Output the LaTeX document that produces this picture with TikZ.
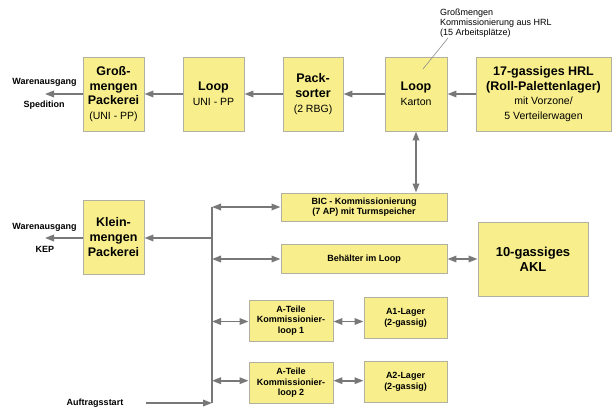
\documentclass[tikz,border=0pt]{standalone}
\usepackage{fontspec}
\setmainfont{Liberation Sans}
\usetikzlibrary{arrows.meta}

\definecolor{boxfill}{RGB}{248,239,140}
\definecolor{boxline}{RGB}{178,176,160}
\definecolor{flow}{RGB}{120,120,120}
\definecolor{pinline}{RGB}{140,140,140}

\tikzset{
  block/.style={draw=boxline, line width=0.9pt, fill=boxfill, align=center,
                inner sep=0pt, text=black},
  bigtxt/.style={font=\fontsize{12.5}{14.7}\selectfont\bfseries},
  smalltxt/.style={font=\fontsize{9}{10.6}\selectfont\bfseries},
  label/.style={font=\fontsize{9}{10.6}\selectfont\bfseries, inner sep=0pt},
  flowline/.style={draw=flow, line width=1.7pt, -{Triangle[length=9pt,width=6.5pt]}},
  twoway/.style={draw=flow, line width=1.7pt,
                 {Triangle[length=9pt,width=6.5pt]}-{Triangle[length=9pt,width=6.5pt]}},
  busline/.style={draw=flow, line width=1.7pt},
}
\newcommand{\subtxt}[1]{{\fontsize{10.5}{12.6}\selectfont\mdseries #1}}

\begin{document}
\begin{tikzpicture}[x=1pt,y=-1pt]
\useasboundingbox (0,0) rectangle (612,409);

% upper flow: high-bay store to bulk packing
\node[block, bigtxt, minimum width=61pt, minimum height=74pt] (gross) at (113.5,94)
  {Groß-\\mengen\\Packerei\\\subtxt{(UNI - PP)}};
\node[block, bigtxt, minimum width=61pt, minimum height=74pt] (loopuni) at (213.5,94)
  {Loop\\\subtxt{UNI - PP}};
\node[block, bigtxt, minimum width=60pt, minimum height=74pt] (packsorter) at (313,94)
  {Pack-\\sorter\\\subtxt{(2 RBG)}};
\node[block, bigtxt, minimum width=62pt, minimum height=74pt] (loopkarton) at (416,94)
  {Loop\\\subtxt{Karton}};
\node[block, bigtxt, minimum width=135pt, minimum height=74pt] (hrl) at (543.5,94)
  {17-gassiges HRL\\(Roll-Palettenlager)\\\subtxt{mit Vorzone/}\\\subtxt{5 Verteilerwagen}};

% note on the carton loop
\node[font=\fontsize{9}{10}\selectfont, align=left, anchor=west, inner sep=0pt] (note) at (440,23)
  {Großmengen\\Kommissionierung aus HRL\\(15 Arbeitsplätze)};
\coordinate (noteend) at (448,38);
\coordinate (pin) at (423,69);
\draw[pinline, line width=0.6pt] (noteend) -- (pin);

% outgoing goods labels
\node[label] (wa1) at (44.5,82) {Warenausgang};
\node[label] (sped) at (44,105) {Spedition};
\coordinate (out1) at (45,94);
\node[label] (wa2) at (44.5,227) {Warenausgang};
\node[label] (kep) at (45,249) {KEP};
\coordinate (out2) at (45,238);

% small-quantity packing
\node[block, bigtxt, minimum width=61pt, minimum height=74pt] (klein) at (113.5,237)
  {Klein-\\mengen\\Packerei};

% picking areas
\node[block, smalltxt, minimum width=166pt, minimum height=28pt] (bic) at (364,207)
  {BIC - Kommissionierung\\(7 AP) mit Turmspeicher};
\node[block, smalltxt, minimum width=166pt, minimum height=29pt] (behaelter) at (364,259)
  {Behälter im Loop};
\node[block, font=\fontsize{13}{15}\selectfont\bfseries, minimum width=110pt, minimum height=74pt] (akl) at (533,259)
  {10-gassiges\\AKL};
\node[block, smalltxt, minimum width=84pt, minimum height=41pt] (ateile1) at (291,320.5)
  {A-Teile\\Kommissionier-\\loop 1};
\node[block, smalltxt, minimum width=83pt, minimum height=41pt] (a1) at (405.5,317.8)
  {A1-Lager\\(2-gassig)};
\node[block, smalltxt, minimum width=84pt, minimum height=41pt] (ateile2) at (291,383)
  {A-Teile\\Kommissionier-\\loop 2};
\node[block, smalltxt, minimum width=83pt, minimum height=41pt] (a2) at (405.5,382)
  {A2-Lager\\(2-gassig)};

\node[label] (auftrag) at (95,403) {Auftragsstart};

% distribution bus
\coordinate (bustop) at (212,207);
\coordinate (busbot) at (212,403);
\coordinate (busk) at (212,238);
\coordinate (bus2) at (212,259);
\coordinate (bus3) at (212,321.5);
\coordinate (bus4) at (212,380.7);
\coordinate (start) at (146,403);

% upper flow arrows
\draw[flowline] (hrl) -- (loopkarton);
\draw[flowline] (loopkarton) -- (packsorter);
\draw[flowline] (packsorter) -- (loopuni);
\draw[flowline] (loopuni) -- (gross);
\draw[flowline] (gross) -- (out1);
\draw[twoway] (loopkarton.south) -- (bic.north -| loopkarton.south);

% lower flow arrows
\draw[busline] (bustop) -- (busbot);
\draw[flowline] (start) -- (busbot);
\draw[flowline] (busk) -- (klein.east |- busk);
\draw[flowline] (klein.west |- out2) -- (out2);
\draw[twoway] (bustop) -- (bic.west |- bustop);
\draw[twoway] (bus2) -- (behaelter.west |- bus2);
\draw[twoway] (behaelter.east) -- (akl.west |- behaelter.east);
\draw[twoway] (bus3) -- (ateile1.west |- bus3);
\draw[twoway] (ateile1.east |- bus3) -- (a1.west |- bus3);
\draw[twoway] (bus4) -- (ateile2.west |- bus4);
\draw[twoway] (ateile2.east |- bus4) -- (a2.west |- bus4);
\end{tikzpicture}
\end{document}
